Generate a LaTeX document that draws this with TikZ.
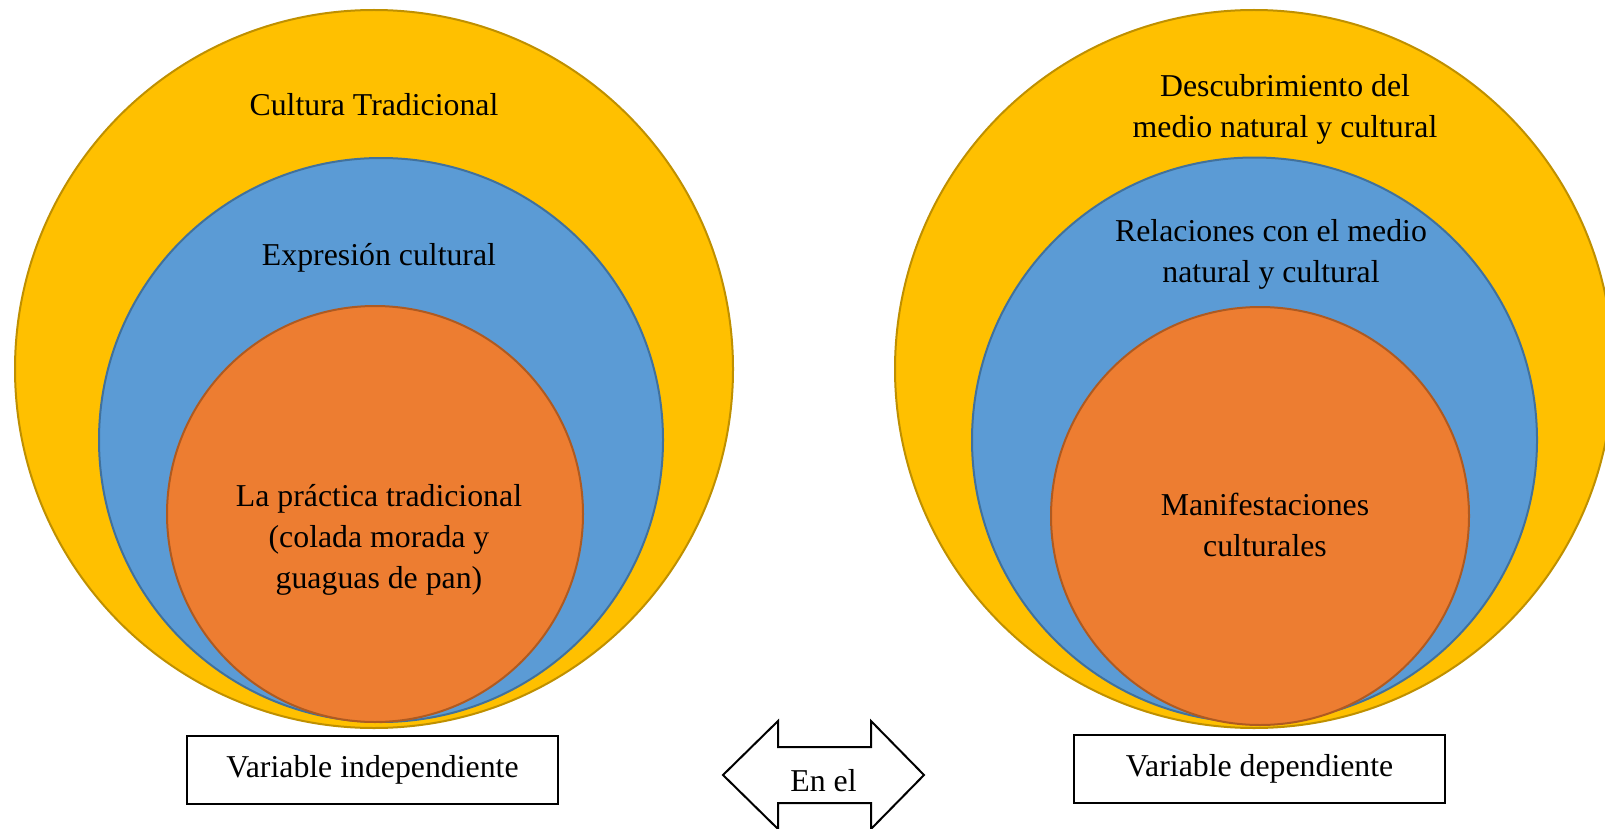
\documentclass[tikz,border=0pt]{standalone}
\usepackage{fontspec}
\setmainfont{Liberation Serif}
\definecolor{ygold}{HTML}{FFC000}
\definecolor{ygoldline}{HTML}{BF9000}
\definecolor{bblue}{HTML}{5B9BD5}
\definecolor{bblueline}{HTML}{41719C}
\definecolor{oorange}{HTML}{ED7D31}
\definecolor{oorangeline}{HTML}{AE5A21}
\tikzset{
  ring/.style={circle, inner sep=0pt, line width=1pt},
  yring/.style={ring, fill=ygold, draw=ygoldline},
  bring/.style={ring, fill=bblue, draw=bblueline},
  oring/.style={ring, fill=oorange, draw=oorangeline},
  lbl/.style={align=center, font=\fontsize{15.9}{20.5}\selectfont, inner sep=0pt},
  varbox/.style={draw=black, line width=1.4pt, fill=white, minimum width=185.5pt, minimum height=34pt, font=\fontsize{15.9}{20}\selectfont},
}
\begin{document}
\begin{tikzpicture}[x=0.5pt,y=-0.5pt]
\useasboundingbox (0,0) rectangle (1605,829);
% left set
\node[yring, minimum size=359pt] (ly) at (374,369) {};
\node[bring, minimum size=282pt] (lb) at (381,440) {};
\node[oring, minimum size=208pt] (lo) at (375,514) {};
\node[lbl] (lyt) at (374,105) {Cultura Tradicional};
\node[lbl] (lbt) at (379,258) {Expresión cultural};
\node[lbl] (lot) at (379,540) {La práctica tradicional\\(colada morada y\\guaguas de pan)};
% right set
\node[yring, minimum size=359pt] (ry) at (1254,369) {};
\node[bring, minimum size=282.5pt] (rb) at (1254.5,440) {};
\node[oring, minimum size=209pt] (ro) at (1260,516) {};
\node[lbl] (ryt) at (1285,109) {Descubrimiento del\\medio natural y cultural};
\node[lbl] (rbt) at (1271,254) {Relaciones con el medio\\natural y cultural};
\node[lbl] (rot) at (1265,525) {Manifestaciones\\culturales};
% boxes
\node[varbox] (vi) at (372.5,770) {Variable independiente};
\node[varbox] (vd) at (1259.5,769) {Variable dependiente};
% double arrow
\coordinate (ac) at (823.5,781);
\draw[line width=1pt, fill=white, line join=miter]
  (723,775) -- (778,721) -- (778,747) -- (871,747) -- (871,721) -- (924,775)
  -- (871,829) -- (871,803) -- (778,803) -- (778,829) -- cycle;
\node[lbl] (enel) at (ac) {En el};
\end{tikzpicture}
\end{document}
